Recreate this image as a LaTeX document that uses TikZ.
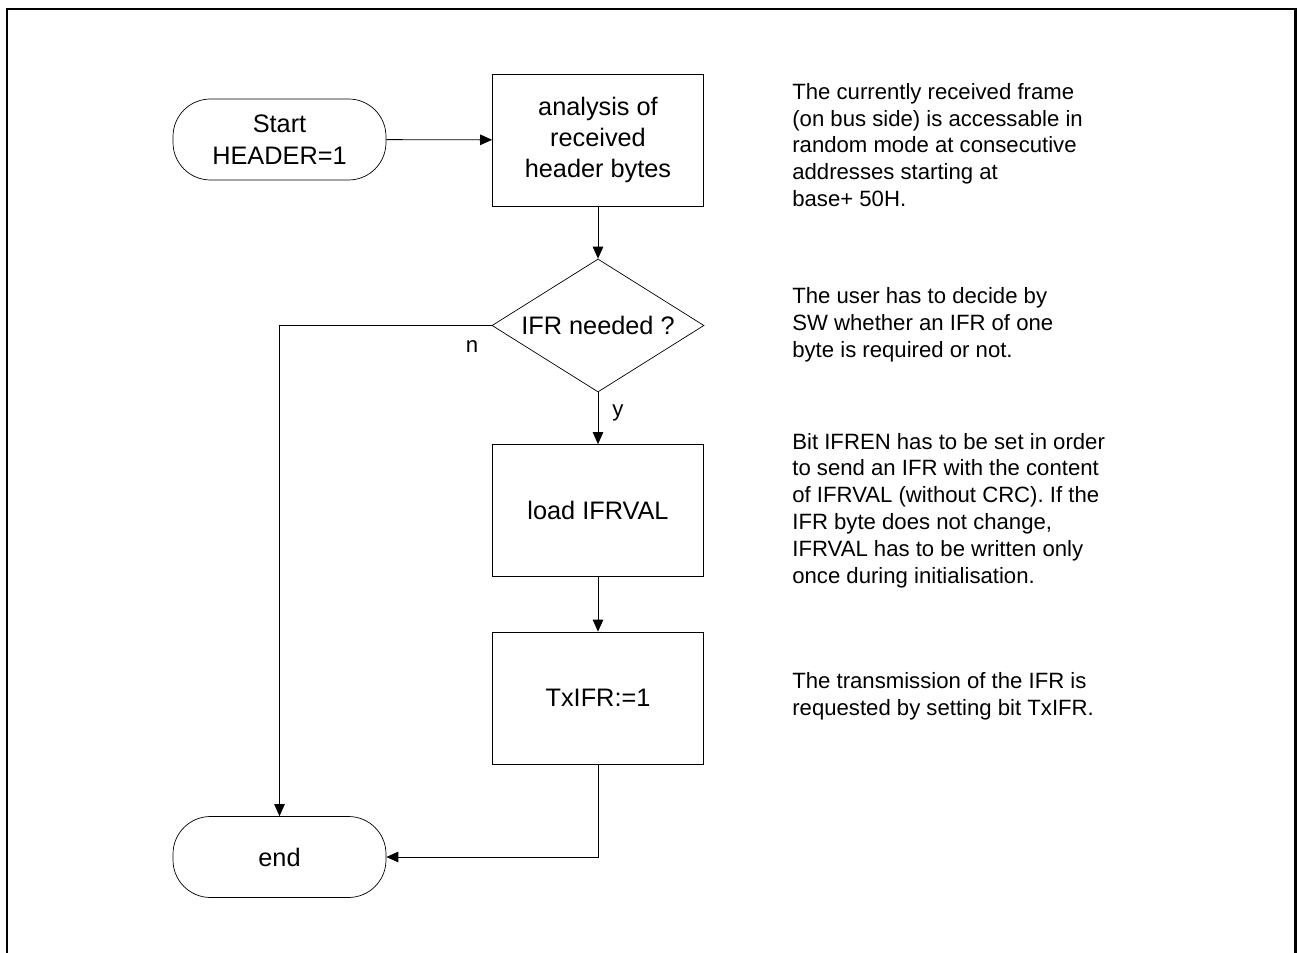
\documentclass[tikz,border=0pt]{standalone}
\usepackage{fontspec}
\setmainfont{Liberation Sans}
\usetikzlibrary{arrows.meta,shapes.geometric}

\tikzset{
	box/.style={draw, minimum width=4.22cm, minimum height=2.64cm, align=center, inner sep=0pt, font=\fontsize{14.4}{17.9}\selectfont},
	term/.style={draw, rounded corners=0.75cm, minimum width=4.26cm, minimum height=1.62cm, align=center, inner sep=0pt, font=\fontsize{14.4}{17.9}\selectfont},
	ask/.style={draw, diamond, aspect=1.594, minimum width=4.24cm, minimum height=2.66cm, inner sep=0pt, font=\fontsize{14.4}{17.9}\selectfont},
	note/.style={anchor=west, align=left, inner sep=0pt, font=\fontsize{12.6}{15.3}\selectfont},
	lbl/.style={inner sep=0pt, font=\fontsize{12.6}{15.3}\selectfont},
	flow/.style={-{Triangle[length=0.24cm, width=0.21cm]}, line width=0.5pt}
}

\begin{document}
\begin{tikzpicture}
\useasboundingbox (0,0) rectangle (25.94,-19.06);

% Rahmen
\draw[line width=0.05cm] (0.14,-19.06) -- (0.14,-0.18) -- (25.91,-0.18) -- (25.91,-19.06);

% Ablauf
\node[term] (start) at (5.59,-2.79) {Start\\HEADER=1};
\node[box] (analyse) at (11.96,-2.80) {analysis of\\received\\header bytes};
\node[ask] (ifr) at (11.96,-6.51) {IFR needed ?};
\node[box] (load) at (11.96,-10.21) {load IFRVAL};
\node[box] (tx) at (11.96,-13.96) {TxIFR:=1};
\node[term] (end) at (5.59,-17.14) {end};

\node[lbl] (no) at (9.44,-6.94) {n};
\node[lbl] (yes) at (12.36,-8.26) {y};

\draw[flow] (start) -- (analyse);
\draw[flow] (analyse) -- (ifr);
\draw[flow] (ifr) -- (load);
\draw[flow] (load) -- (tx);
\draw[flow] (ifr.west) -| (end.north);
\draw[flow] (tx.south) |- (end.east);

% Erklaerungen
\node[note] (txt1) at (15.84,-2.90) {The currently received frame\\(on bus side) is accessable in\\random mode at consecutive\\addresses starting at\\base+ 50H.};
\node[note] (txt2) at (15.84,-6.50) {The user has to decide by\\SW whether an IFR of one\\byte is required or not.};
\node[note] (txt3) at (15.84,-10.21) {Bit IFREN has to be set in order\\to send an IFR with the content\\of IFRVAL (without CRC). If the\\IFR byte does not change,\\IFRVAL has to be written only\\once during initialisation.};
\node[note] (txt4) at (15.84,-13.93) {The transmission of the IFR is\\requested by setting bit TxIFR.};

\end{tikzpicture}
\end{document}
